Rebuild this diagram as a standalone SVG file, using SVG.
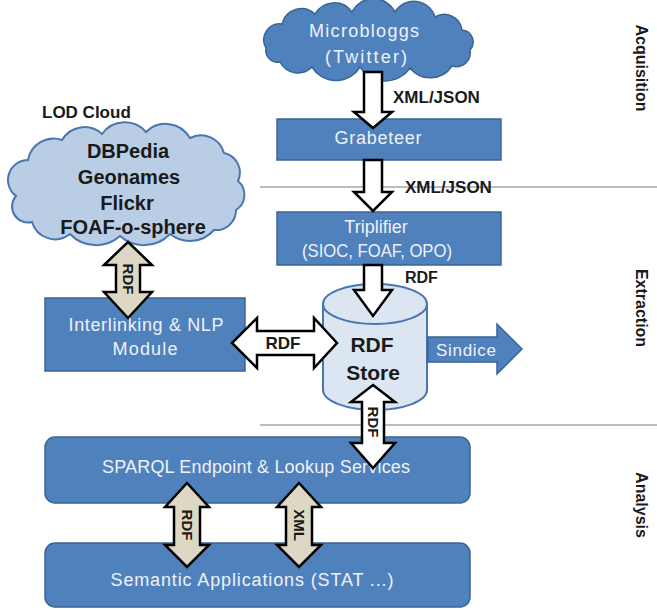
<svg xmlns="http://www.w3.org/2000/svg" width="657" height="610" viewBox="0 0 657 610">
<style>
.box{fill:#4f81bd;stroke:#3a6496;stroke-width:1.5}
.cloudDark{fill:#4f81bd;stroke:#3a6496;stroke-width:1.5}
.cloudLight{fill:#b9cde4;stroke:#4a76b0;stroke-width:2}
.cyl{fill:#dce6f2;stroke:#4a76b0;stroke-width:2}
.wt{font-family:"Liberation Sans",Arial,sans-serif;fill:#eef2f8;text-anchor:middle}
.bt{font-family:"Liberation Sans",Arial,sans-serif;font-weight:bold;fill:#1a1a1a}
.mid{text-anchor:middle}
.aw{fill:#ffffff;stroke:#000000;stroke-width:2.5;stroke-linejoin:miter}
.at{fill:#ddd8c4;stroke:#000000;stroke-width:2.5;stroke-linejoin:miter}
.sep{stroke:#b8bec8;stroke-width:2;fill:none}
</style>
<rect width="657" height="610" fill="#ffffff"/>
<g id="separators">
<line class="sep" x1="260" y1="187" x2="657" y2="187"/>
<line class="sep" x1="260" y1="425" x2="657" y2="425"/>
</g>
<g id="section-labels">
<text class="bt mid" font-size="16" transform="translate(642,68) rotate(90)" dy="0.35em">Acquisition</text>
<text class="bt mid" font-size="16" transform="translate(642,308) rotate(90)" dy="0.35em">Extraction</text>
<text class="bt mid" font-size="16" transform="translate(642,505) rotate(90)" dy="0.35em">Analysis</text>
</g>
<g id="microbloggs">
<path class="cloudDark" d="M266,48 A16,16 0 0 1 282,24 A20,20 0 0 1 315,14 A22,22 0 0 1 352,12 A24,24 0 0 1 395,12 A22,22 0 0 1 435,17 A18,18 0 0 1 462,30 A12,12 0 0 1 470,50 A14,14 0 0 1 452,66 A26,26 0 0 1 410,68 A30,30 0 0 1 360,67 A28,28 0 0 1 312,67 A20,20 0 0 1 280,62 A12,12 0 0 1 266,48 Z"/>
<text class="wt" font-size="18" x="364" y="37" textLength="110" lengthAdjust="spacing">Microbloggs</text>
<text class="wt" font-size="18" x="366" y="63" textLength="82" lengthAdjust="spacing">(Twitter)</text>
</g>
<g id="lod-cloud">
<text class="bt" font-size="17" x="42" y="118">LOD Cloud</text>
<path class="cloudLight" d="M16,196 A20,20 0 0 1 28,160 A26,26 0 0 1 62,140 A26,26 0 0 1 102,134 A28,28 0 0 1 146,132 A28,28 0 0 1 190,138 A24,24 0 0 1 224,153 A20,20 0 0 1 238,181 A18,18 0 0 1 236,210 A20,20 0 0 1 214,230 A32,32 0 0 1 170,234 A36,36 0 0 1 120,236 A36,36 0 0 1 70,234 A24,24 0 0 1 32,222 A16,16 0 0 1 16,196 Z"/>
<text class="bt mid" font-size="20" x="128" y="158">DBPedia</text>
<text class="bt mid" font-size="20" x="129" y="184">Geonames</text>
<text class="bt mid" font-size="20" x="127" y="210">Flickr</text>
<text class="bt mid" font-size="20" x="133" y="234">FOAF-o-sphere</text>
</g>
<g id="grabeteer">
<rect class="box" x="277" y="119" width="224" height="41"/>
<text class="wt" font-size="18" x="378" y="144" textLength="87" lengthAdjust="spacing">Grabeteer</text>
</g>
<g id="triplifier">
<rect class="box" x="277" y="212" width="224" height="53"/>
<text class="wt" font-size="18" x="376" y="233">Triplifier</text>
<text class="wt" font-size="18" x="377" y="257" textLength="150" lengthAdjust="spacingAndGlyphs">(SIOC, FOAF, OPO)</text>
</g>
<g id="interlinking">
<rect class="box" x="45" y="298" width="200" height="73"/>
<text class="wt" font-size="18" x="146" y="331" textLength="155" lengthAdjust="spacing">Interlinking &amp; NLP</text>
<text class="wt" font-size="18" x="145" y="355" textLength="65" lengthAdjust="spacing">Module</text>
</g>
<g id="rdf-store">
<path class="cyl" d="M323,304 V390 A52,20 0 0 0 427,390 V304 Z"/>
<ellipse class="cyl" cx="375" cy="304" rx="52" ry="20"/>
<text class="bt mid" font-size="21" x="372" y="352">RDF</text>
<text class="bt mid" font-size="21" x="373" y="380">Store</text>
</g>
<g id="sindice">
<polygon class="box" points="428,337 497,337 497,324 522,349 497,374 497,362 428,362"/>
<text class="wt" font-size="17" x="466" y="356" textLength="60" lengthAdjust="spacing">Sindice</text>
</g>
<g id="sparql">
<rect class="box" x="45" y="437" width="425" height="66" rx="10" ry="10"/>
<text class="wt" font-size="18" x="256" y="473" textLength="308" lengthAdjust="spacing">SPARQL Endpoint &amp; Lookup Services</text>
</g>
<g id="semantic-apps">
<rect class="box" x="45" y="543" width="425" height="64" rx="10" ry="10"/>
<text class="wt" font-size="18" x="252" y="586" textLength="283" lengthAdjust="spacing">Semantic Applications (STAT ...)</text>
</g>
<g id="connectors">
<polygon class="aw" points="364,72 382,72 382,112 392,112 373,128 354,112 364,112"/>
<text class="bt" font-size="17" x="393" y="103">XML/JSON</text>
<polygon class="aw" points="364,160 382,160 382,192 392,192 373,211 354,192 364,192"/>
<text class="bt" font-size="17" x="405" y="193">XML/JSON</text>
<polygon class="aw" points="364,265 382,265 382,290 392,290 373,316 354,290 364,290"/>
<text class="bt" font-size="16" x="405" y="283">RDF</text>
<polygon class="at" points="128,242 152,265 140,265 140,292 152,292 128,318 104,292 116,292 116,265 104,265"/>
<text class="bt mid" font-size="15" transform="translate(128,279) rotate(90)" dy="0.35em">RDF</text>
<polygon class="aw" points="232,343 257,318 257,331 314,331 314,318 337,343 314,368 314,355 257,355 257,368"/>
<text class="bt mid" font-size="17" x="283" y="349">RDF</text>
<polygon class="aw" points="373,385 395,402 384,402 384,443 395,443 373,468 351,443 362,443 362,402 351,402"/>
<text class="bt mid" font-size="15" transform="translate(373,422) rotate(90)" dy="0.35em">RDF</text>
<polygon class="at" points="187,483 209,507 200,507 200,545 209,545 187,567 165,545 174,545 174,507 165,507"/>
<text class="bt mid" font-size="15" transform="translate(187,525) rotate(90)" dy="0.35em">RDF</text>
<polygon class="at" points="299,483 321,507 312,507 312,545 321,545 299,567 277,545 286,545 286,507 277,507"/>
<text class="bt mid" font-size="15" transform="translate(299,525) rotate(90)" dy="0.35em">XML</text>
</g>
</svg>
